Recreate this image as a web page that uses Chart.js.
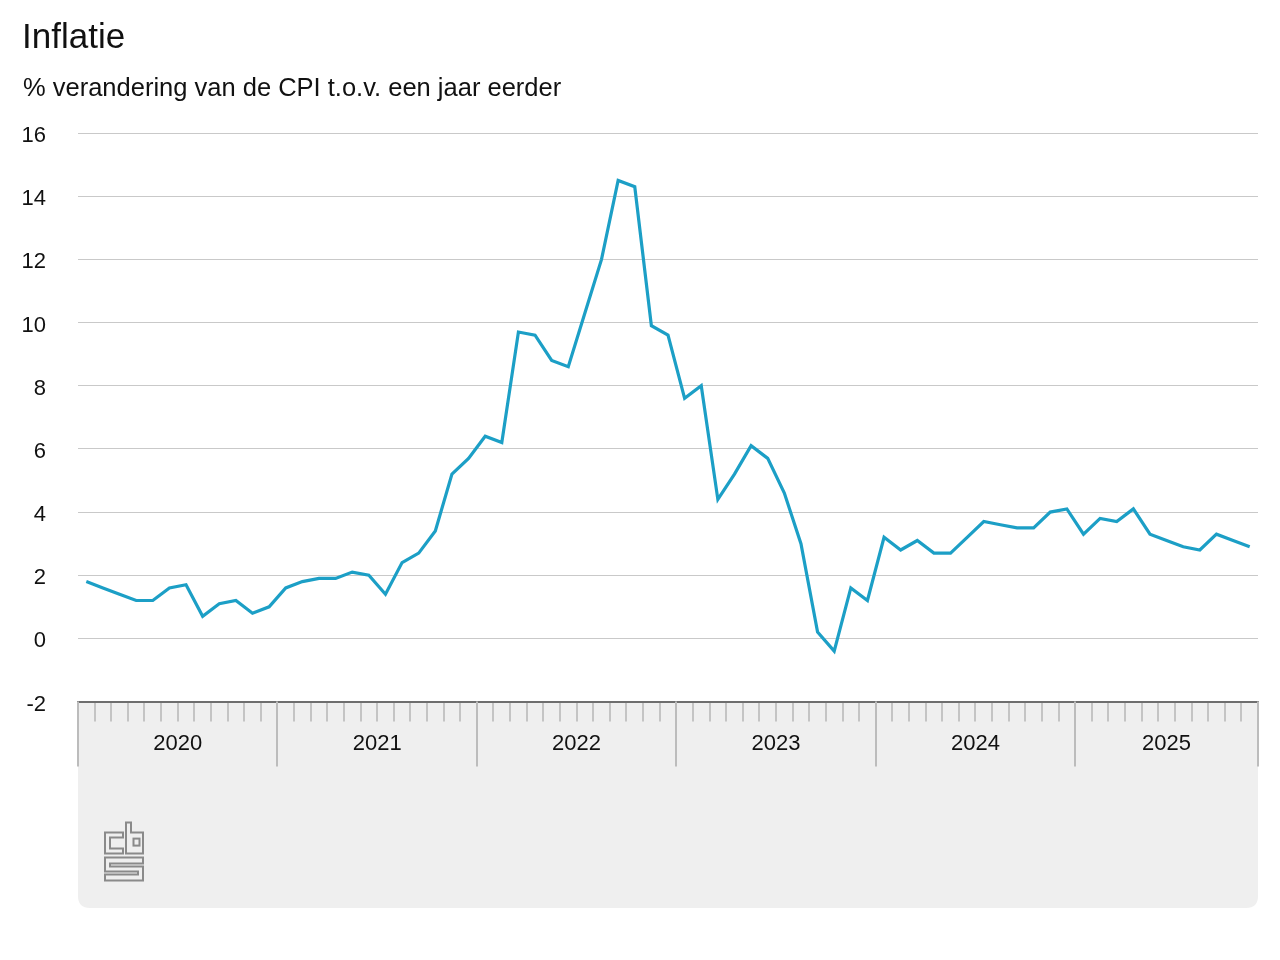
<!DOCTYPE html>
<html lang="nl">
<head>
<meta charset="utf-8">
<title>Inflatie</title>
<script src="https://cdn.jsdelivr.net/npm/chart.js@4/dist/chart.umd.min.js"></script>
<style>
  html, body { margin: 0; padding: 0; background: #fff; }
  body { width: 1280px; height: 960px; position: relative; overflow: hidden;
         font-family: "Liberation Sans", Arial, Helvetica, sans-serif; color: #111; }
  #titel { position: absolute; left: 22px; top: 15px; font-size: 35px; line-height: 42px; }
  #subtitel { position: absolute; left: 23px; top: 71px; font-size: 25.5px; line-height: 32px; }
  #wrap { position: absolute; left: 0; top: 0; width: 1280px; height: 960px; }
</style>
</head>
<body>
<div id="wrap"><canvas id="inflatieChart" width="1280" height="960"></canvas></div>
<div id="titel">Inflatie</div>
<div id="subtitel">% verandering van de CPI t.o.v. een jaar eerder</div>
<script>
// jaren op de x-as en aantal maanden per jaar in de grafiek
const jaren = ['2020', '2021', '2022', '2023', '2024', '2025'];
const maandenPerJaar = [12, 12, 12, 12, 12, 11];

// CPI-inflatie per maand (jan 2020 t/m nov 2025)
const inflatie2020 = [1.8, 1.6, 1.4, 1.2, 1.2, 1.6, 1.7, 0.7, 1.1, 1.2, 0.8, 1.0];
const inflatie2021 = [1.6, 1.8, 1.9, 1.9, 2.1, 2.0, 1.4, 2.4, 2.7, 3.4, 5.2, 5.7];
const inflatie2022 = [6.4, 6.2, 9.7, 9.6, 8.8, 8.6, 10.3, 12.0, 14.5, 14.3, 9.9, 9.6];
const inflatie2023 = [7.6, 8.0, 4.4, 5.2, 6.1, 5.7, 4.6, 3.0, 0.2, -0.4, 1.6, 1.2];
const inflatie2024 = [3.2, 2.8, 3.1, 2.7, 2.7, 3.2, 3.7, 3.6, 3.5, 3.5, 4.0, 4.1];
const inflatie2025 = [3.3, 3.8, 3.7, 4.1, 3.3, 3.1, 2.9, 2.8, 3.3, 3.1, 2.9];

// y-as labels
const yTicks = [-2, 0, 2, 4, 6, 8, 10, 12, 14, 16];

const inflatie = [].concat(inflatie2020, inflatie2021, inflatie2022,
                           inflatie2023, inflatie2024, inflatie2025);
const totaalMaanden = maandenPerJaar.reduce((a, b) => a + b, 0);

// elk punt in het midden van zijn maand
const punten = inflatie.map((v, i) => ({ x: i + 0.5, y: v }));

// grenzen tussen jaren en het midden van elk jaar
const jaarGrenzen = [0];
maandenPerJaar.forEach((m) => jaarGrenzen.push(jaarGrenzen[jaarGrenzen.length - 1] + m));
const jaarMidden = jaren.map((j, i) => (jaarGrenzen[i] + jaarGrenzen[i + 1]) / 2);

const grijsVlak = {
  id: 'grijsVlak',
  beforeDraw(chart) {
    const { ctx, chartArea } = chart;
    const x0 = chartArea.left, x1 = chartArea.right;
    const y0 = chartArea.bottom, y1 = 908;
    const r = 12;
    ctx.save();
    ctx.fillStyle = '#efefef';
    ctx.beginPath();
    ctx.moveTo(x0, y0);
    ctx.lineTo(x1, y0);
    ctx.lineTo(x1, y1 - r);
    ctx.quadraticCurveTo(x1, y1, x1 - r, y1);
    ctx.lineTo(x0 + r, y1);
    ctx.quadraticCurveTo(x0, y1, x0, y1 - r);
    ctx.closePath();
    ctx.fill();
    ctx.restore();
  },
  afterDraw(chart) {
    const { ctx, chartArea } = chart;
    const xs = chart.scales.x;
    ctx.save();
    // lange streepjes op de jaargrenzen
    ctx.strokeStyle = '#bcbcbc';
    ctx.lineWidth = 2;
    jaarGrenzen.forEach((g) => {
      const px = Math.round(xs.getPixelForValue(g));
      ctx.beginPath();
      ctx.moveTo(px, chartArea.bottom);
      ctx.lineTo(px, chartArea.bottom + 65);
      ctx.stroke();
    });
    // cbs logo
    const lx = chartArea.left + 27, ly = chartArea.bottom + 121;
    ctx.strokeStyle = '#8a8a8a';
    ctx.lineWidth = 2;
    ctx.lineJoin = 'miter';
    const vorm = (pts) => {
      ctx.beginPath();
      ctx.moveTo(lx + pts[0][0], ly + pts[0][1]);
      for (let i = 1; i < pts.length; i++) ctx.lineTo(lx + pts[i][0], ly + pts[i][1]);
      ctx.closePath();
      ctx.stroke();
    };
    // c
    vorm([[18, 10], [0, 10], [0, 31], [18, 31], [18, 26], [5, 26], [5, 15], [18, 15]]);
    // b
    vorm([[21, 0], [26, 0], [26, 10], [38, 10], [38, 31], [21, 31]]);
    ctx.strokeRect(lx + 28.5, ly + 16, 6, 7);
    // s
    vorm([[0, 35], [38, 35], [38, 41], [5, 41], [5, 44], [38, 44], [38, 58],
          [0, 58], [0, 52], [33, 52], [33, 49], [0, 49]]);
    ctx.restore();
  }
};

const ctx = document.getElementById('inflatieChart').getContext('2d');
new Chart(ctx, {
  type: 'line',
  data: {
    datasets: [
      {
        label: 'Inflatie',
        data: punten,
        borderColor: '#1c9fc6',
        borderWidth: 3.2,
        pointRadius: 0,
        tension: 0,
        borderJoinStyle: 'miter',
        fill: false,
      },
    ],
  },
  options: {
    responsive: false,
    animation: false,
    devicePixelRatio: 1,
    layout: { padding: { top: 133, left: 22, right: 22, bottom: 194 } },
    plugins: {
      legend: { display: false },
      tooltip: { enabled: false },
    },
    scales: {
      x: {
        type: 'linear',
        min: 0,
        max: totaalMaanden,
        border: { display: true, color: '#6e6e6e', width: 2 },
        grid: {
          drawOnChartArea: false,
          drawTicks: true,
          tickLength: 20,
          lineWidth: 2,
          color: (c) => (c.tick && c.tick.soort === 'maand') ? '#c4c4c4' : 'rgba(0,0,0,0)',
        },
        afterBuildTicks: (axis) => {
          const lijst = [];
          for (let m = 0; m <= totaalMaanden; m++) {
            const soort = jaarGrenzen.includes(m) ? 'jaar' : 'maand';
            lijst.push({ value: m, soort: soort, tekst: '' });
          }
          jaarMidden.forEach((mid, i) => {
            const bestaand = lijst.find((t) => t.value === mid);
            if (bestaand) bestaand.tekst = jaren[i];
            else lijst.push({ value: mid, soort: 'label', tekst: jaren[i] });
          });
          lijst.sort((a, b) => a.value - b.value);
          axis.ticks = lijst;
        },
        ticks: {
          autoSkip: false,
          maxRotation: 0,
          padding: 9,
          color: '#111',
          font: { family: '"Liberation Sans", Arial, sans-serif', size: 22 },
          callback: function (value, index, ticks) {
            return ticks[index].tekst;
          },
        },
      },
      y: {
        min: yTicks[0],
        max: yTicks[yTicks.length - 1],
        border: { display: false },
        afterBuildTicks: (axis) => {
          axis.ticks = yTicks.map((v) => ({ value: v }));
        },
        afterFit: (axis) => {
          axis.width = 56;
        },
        grid: {
          drawTicks: false,
          color: '#c9c9c9',
          lineWidth: 1,
        },
        ticks: {
          padding: 32,
          labelOffset: 3,
          color: '#111',
          font: { family: '"Liberation Sans", Arial, sans-serif', size: 22 },
        },
      },
    },
  },
  plugins: [grijsVlak],
});
</script>
</body>
</html>
